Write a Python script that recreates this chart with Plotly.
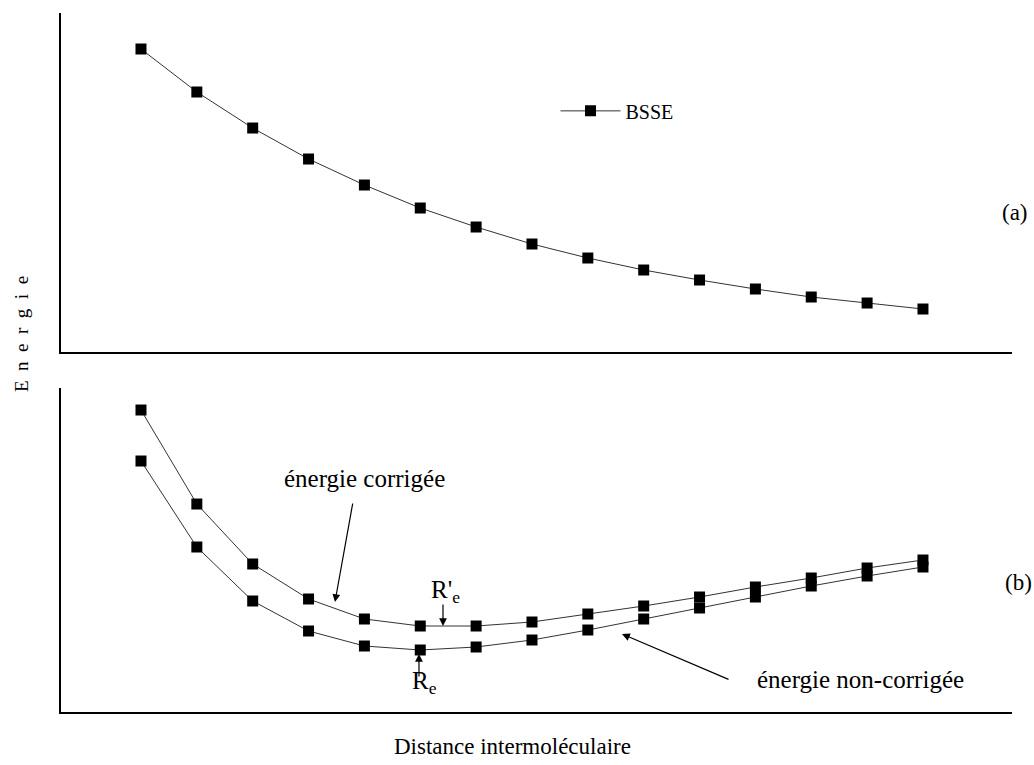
import plotly.graph_objects as go
from plotly.subplots import make_subplots

# Data (arbitrary energy units)
distance = list(range(1, 16))
bsse = [303, 260, 224, 193, 167, 144, 125, 108, 94, 82, 72, 63, 55, 49, 43]
e_corrigee = [302, 208, 148, 113, 93, 86, 86, 90, 98, 106, 115, 125, 134, 144, 152]
e_non_corrigee = [251, 165, 111, 81, 66, 62, 65, 72, 82, 93, 104, 115, 126, 136, 145]

FONT = "Liberation Serif"
W, H = 1034, 765
ML, MR, MT, MB = 61, 22, 13, 53
PW, PH = W - ML - MR, H - MT - MB


def px(xpix):
    return (xpix - ML) / PW


def py(ypix):
    return (H - MB - ypix) / PH


fig = make_subplots(rows=2, cols=1, shared_xaxes=False)

line_style = dict(color="#333333", width=1)
marker_style = dict(symbol="square", size=11, color="black")

fig.add_trace(go.Scatter(x=distance, y=bsse, mode="lines+markers", name="BSSE",
                         line=line_style, marker=marker_style, showlegend=True),
              row=1, col=1)
fig.add_trace(go.Scatter(x=distance, y=e_corrigee, mode="lines+markers",
                         name="énergie corrigée", line=line_style,
                         marker=marker_style, showlegend=False), row=2, col=1)
fig.add_trace(go.Scatter(x=distance, y=e_non_corrigee, mode="lines+markers",
                         name="énergie non-corrigée", line=line_style,
                         marker=marker_style, showlegend=False), row=2, col=1)

xr = [-0.432, 16.594]
axis_common = dict(showgrid=False, zeroline=False, showticklabels=False,
                   ticks="", showline=True, linecolor="black", linewidth=2)
fig.update_xaxes(range=xr, **axis_common)
fig.update_yaxes(**axis_common)
fig.update_layout(
    xaxis=dict(domain=[0, 1]),
    xaxis2=dict(domain=[0, 1]),
    yaxis=dict(domain=[0.515, 1.0], range=[0, 339]),
    yaxis2=dict(domain=[0.0, 0.4635], range=[0, 324]),
)

big = dict(family=FONT, size=25, color="black")
mid = dict(family=FONT, size=23, color="black")
center = dict(xanchor="center", yanchor="middle", showarrow=False)

annotations = [
    # axis titles
    dict(text="E  n  e  r  g  i  e", xref="paper", yref="paper",
         x=px(22), y=py(334), textangle=-90,
         font=dict(family=FONT, size=19, color="black"), **center),
    dict(text="Distance intermoléculaire", xref="paper", yref="paper",
         x=px(512), y=py(746), font=mid, **center),
    # panel labels
    dict(text="(a)", xref="paper", yref="paper", x=px(1015), y=py(213),
         font=mid, **center),
    dict(text="(b)", xref="paper", yref="paper", x=px(1018), y=py(582),
         font=mid, **center),
    # labels in panel b
    dict(text="énergie corrigée", xref="x2", yref="y2", x=5.01, y=234,
         font=big, **center),
    dict(text="énergie non-corrigée", xref="x2", yref="y2", x=13.89, y=33,
         font=big, **center),
    dict(text="R'<sub>e</sub>", xref="x2", yref="y2", x=6.45, y=121,
         font=big, **center),
    dict(text="R<sub>e</sub>", xref="x2", yref="y2", x=6.08, y=30,
         font=big, **center),
    # arrows
    dict(text="", xref="x2", yref="y2", x=4.473, y=110, ax=18, ay=-100,
         showarrow=True, arrowhead=2, arrowsize=1.3, arrowwidth=1.2, arrowcolor="black"),
    dict(text="", xref="x2", yref="y2", x=6.407, y=86, ax=0, ay=-23,
         showarrow=True, arrowhead=2, arrowsize=1.3, arrowwidth=1.2, arrowcolor="black"),
    dict(text="", xref="x2", yref="y2", x=5.977, y=58, ax=0, ay=24,
         showarrow=True, arrowhead=2, arrowsize=1.3, arrowwidth=1.2, arrowcolor="black"),
    dict(text="", xref="x2", yref="y2", x=9.612, y=78, ax=108, ay=46,
         showarrow=True, arrowhead=2, arrowsize=1.3, arrowwidth=1.2, arrowcolor="black"),
]

fig.update_layout(
    width=W, height=H,
    margin=dict(l=ML, r=MR, t=MT, b=MB),
    paper_bgcolor="white", plot_bgcolor="white",
    font=dict(family=FONT, color="black"),
    annotations=annotations,
    legend=dict(x=0.52, y=0.86, xanchor="left", yanchor="middle",
                bgcolor="rgba(0,0,0,0)", borderwidth=0,
                font=dict(family=FONT, size=20, color="black"),
                itemwidth=60),
)

fig.write_html("out.html")
